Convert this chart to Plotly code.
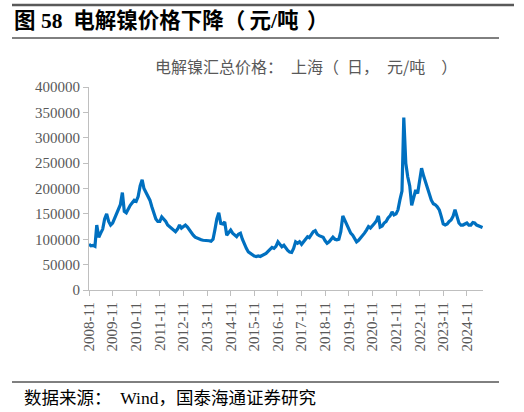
import pandas as pd
import plotly.graph_objs as go

# monthly Shanghai electrolytic nickel price, thousand yuan/ton, from 2008-11
start_month = "2008-11-01"
price_k = [
    90, 87,                                                    # 2008 Nov-Dec
    88, 86, 128, 104, 112, 120, 140, 150, 135, 128, 132, 141,  # 2009
    150, 158, 168, 192, 155, 152, 160, 167, 172, 177, 175, 184,  # 2010
    205, 217, 200, 192, 182, 177, 164, 150, 140, 135, 135, 144,  # 2011
    140, 135, 128, 125, 122, 118, 115, 120, 128, 122, 125, 128,  # 2012
    124, 118, 112, 108, 104, 102, 100, 99, 98, 98, 97, 97,       # 2013
    96, 100, 118, 140, 152, 131, 130, 134, 108, 112, 118, 112,   # 2014
    108, 105, 110, 112, 100, 89, 82, 75, 72, 68, 67, 66,         # 2015
    67, 66, 68, 70, 72, 76, 80, 84, 82, 86, 95, 90,              # 2016
    85, 88, 82, 78, 75, 74, 82, 95, 92, 95, 90, 95,              # 2017
    100, 105, 103, 108, 115, 117, 110, 107, 105, 104, 97, 92,    # 2018
    95, 100, 104, 100, 99, 100, 115, 146, 138, 131, 122, 112,    # 2019
    108, 100, 95, 98, 102, 107, 112, 118, 125, 122, 128, 131,    # 2020
    136, 146, 124, 126, 132, 135, 142, 146, 154, 148, 150, 158,  # 2021
    178, 195, 340, 250, 223, 205, 167, 180, 197, 190, 215, 240,  # 2022
    225, 212, 198, 185, 177, 170, 168, 164, 158, 145, 130, 128,  # 2023
    130, 135, 138, 145, 158, 145, 132, 128, 128, 130, 132, 128,  # 2024
    128, 133, 132, 128, 126, 125, 123,                           # 2025 Jan-Jul
]
tick_years = list(range(2008, 2025))

dates = pd.date_range(start_month, periods=len(price_k), freq="MS")
price = [v * 1000 for v in price_k]
tick_vals = [f"{y}-11-01" for y in tick_years]
tick_text = [f"{y}-11" for y in tick_years]

W, H = 524, 412
L, R, T, B = 89, 41, 87, 122
SERIF = "Times New Roman, Liberation Serif, DejaVu Serif, Noto Sans CJK SC"
CJK = "Noto Sans CJK SC"
SP = "\u2002"  # en space, plotly collapses normal runs of spaces
TH = "\u2009"  # thin space


def px(x):
    return (x - L) / (W - L - R)


def py(y):
    return (H - B - y) / (H - T - B)


fig = go.Figure(go.Scatter(x=dates, y=price, mode="lines",
                           line=dict(color="#0070C0", width=3.2)))

fig.update_layout(
    width=W, height=H, margin=dict(l=L, r=R, t=T, b=B),
    paper_bgcolor="white", plot_bgcolor="white", showlegend=False,
    font=dict(family=SERIF, size=15, color="#595959"),
)
fig.update_xaxes(
    type="date", range=["2008-11-01", "2025-07-08"],
    tickmode="array", tickvals=tick_vals, ticktext=tick_text, tickangle=-90,
    showline=True, linecolor="#BFBFBF", ticks="outside", ticklen=5, tickcolor="#BFBFBF",
    showgrid=False, zeroline=False, tickfont=dict(family=SERIF, size=15, color="#595959"),
)
fig.update_yaxes(
    range=[0, 400000], dtick=50000, tickformat="d",
    showline=True, linecolor="#BFBFBF", ticks="outside", ticklen=5, tickcolor="#BFBFBF",
    showgrid=False, zeroline=False, tickfont=dict(family=SERIF, size=15, color="#595959"),
)

# header / footer rules
fig.add_shape(type="line", xref="paper", yref="paper", x0=px(12), x1=px(514), y0=py(5), y1=py(5),
              line=dict(color="#595959", width=2.5))
fig.add_shape(type="line", xref="paper", yref="paper", x0=px(12), x1=px(499), y0=py(38), y1=py(38),
              line=dict(color="black", width=1))
fig.add_shape(type="line", xref="paper", yref="paper", x0=px(12), x1=px(499), y0=py(382), y1=py(382),
              line=dict(color="black", width=1))

fig.add_annotation(text=f"<b>图 58{SP}电解镍价格下降（{TH}元/吨{TH}{TH}）</b>", xref="paper", yref="paper",
                   x=px(12), y=py(21), xanchor="left", yanchor="middle", showarrow=False,
                   font=dict(family=SERIF, size=21.5, color="black"))
fig.add_annotation(text=f"电解镍汇总价格：{SP}上海（{SP}日，{SP}元/吨{SP}{SP}）", xref="paper", yref="paper",
                   x=px(306), y=py(66), xanchor="center", yanchor="middle", showarrow=False,
                   font=dict(family=CJK, size=16, color="#595959"))
fig.add_annotation(text=f"数据来源：{SP}Wind，国泰海通证券研究", xref="paper", yref="paper",
                   x=px(22), y=py(398), xanchor="left", yanchor="middle", showarrow=False,
                   font=dict(family=SERIF, size=17.5, color="black"))

# drop the default 8px body margin so the figure sits at the page corner
fig.write_html("out.html", config={"displayModeBar": False},
               post_script="document.body.style.margin='0';")
